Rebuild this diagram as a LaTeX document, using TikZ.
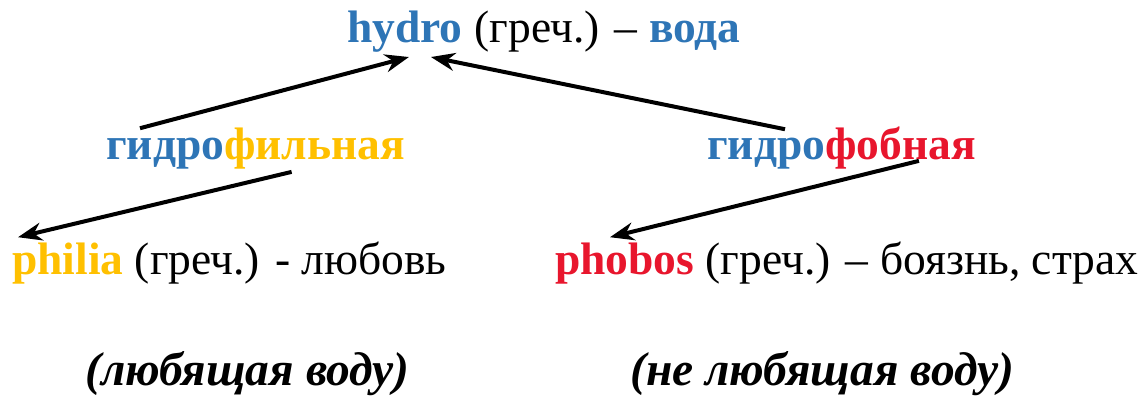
\documentclass[tikz,border=0pt]{standalone}
\usepackage{fontspec}
\setmainfont{Liberation Serif}
\usetikzlibrary{arrows.meta}
\definecolor{azul}{RGB}{46,117,182}
\definecolor{amarillo}{RGB}{255,192,0}
\definecolor{rojo}{RGB}{232,22,45}
\tikzstyle{texto} = [inner sep=0pt, anchor=base west, font=\fontsize{45.5}{52}\selectfont]
\tikzstyle{textocursiva} = [texto, font=\fontsize{47.5}{54}\selectfont\bfseries\itshape]
\tikzstyle{arrow} = [line width=4pt,-{Stealth[length=24pt,width=18pt]}]
\begin{document}
\begin{tikzpicture}[x=1pt, y=-1pt]
    	\useasboundingbox (0,0) rectangle (1144,396);
    	% Palabras
    	\node (hy) [texto] at (347,43) {\textbf{\textcolor{azul}{hydro}}};
    	\node (agua) [texto] at (hy.base east) {\ (греч.) – \textbf{\textcolor{azul}{вода}}};
    	\node (fil) [texto] at (106,159) {\textbf{\textcolor{azul}{гидро}\textcolor{amarillo}{фильная}}};
    	\node (fob) [texto] at (707,159) {\textbf{\textcolor{azul}{гидро}\textcolor{rojo}{фобная}}};
    	\node (phil) [texto] at (12,274) {\textbf{\textcolor{amarillo}{philia}} (греч.) - любовь};
    	\node (phob) [texto] at (555,274) {\textbf{\textcolor{rojo}{phobos}} (греч.) – боязнь, страх};
    	\node (ama) [textocursiva] at (85,385) {(любящая воду)};
    	\node (noama) [textocursiva] at (630,385) {(не любящая воду)};
    	% Flechas
        \draw[arrow] ([xshift=34pt,yshift=-1pt]fil.north west) -- ([xshift=4pt,yshift=-4pt]hy.south);
        \draw[arrow] ([xshift=78pt,yshift=-3pt]fob.north west) -- ([xshift=26pt,yshift=-4pt]hy.south);
        \draw[arrow] ([xshift=36pt,yshift=-3pt]fil.south) -- ([xshift=6pt,yshift=4pt]phil.north west);
        \draw[arrow] ([xshift=-57pt,yshift=8pt]fob.south east) -- ([xshift=55pt,yshift=4pt]phob.north west);
    
    \end{tikzpicture}
\end{document}
